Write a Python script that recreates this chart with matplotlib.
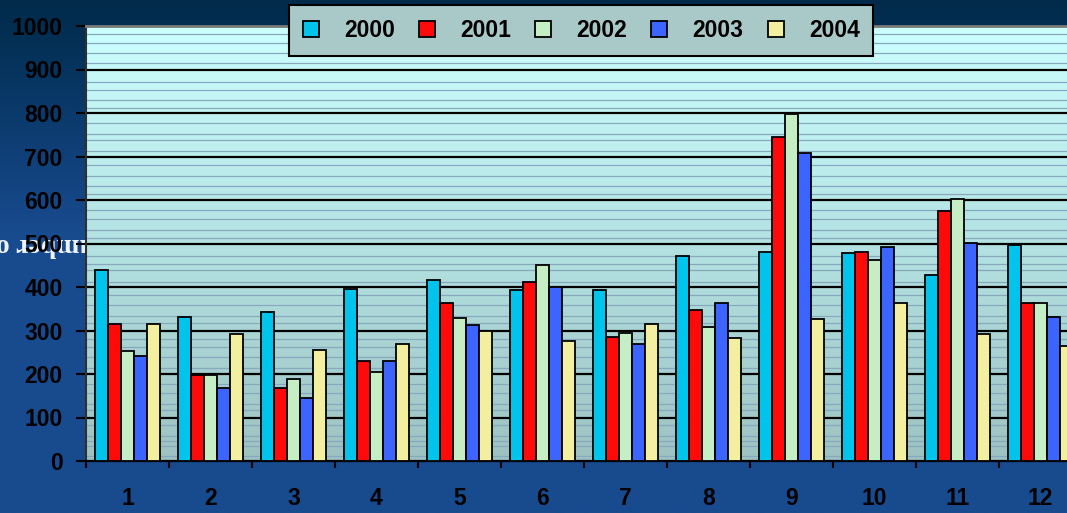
"""Monthly values 2000-2004, clustered bar chart.
"""

import numpy as np
import matplotlib
matplotlib.use('Agg')
import matplotlib.pyplot as plt
from matplotlib.colors import LinearSegmentedColormap


months = ['1', '2', '3', '4', '5', '6', '7', '8', '9', '10', '11', '12']
years = ['2000', '2001', '2002', '2003', '2004']

v2000 = [438, 332, 343, 396, 417, 393, 393, 472, 481, 478, 428, 496]
v2001 = [315, 197, 168, 231, 364, 411, 285, 347, 744, 481, 575, 364]
v2002 = [252, 197, 188, 205, 329, 451, 295, 309, 798, 461, 603, 364]
v2003 = [241, 167, 144, 231, 313, 399, 269, 364, 709, 491, 501, 332]
v2004 = [316, 293, 256, 269, 298, 276, 316, 282, 326, 364, 292, 265]

yticks = [0, 100, 200, 300, 400, 500, 600, 700, 800, 900, 1000]
# faint lines of the plot area texture
texture = [12, 35, 47, 58, 82, 118, 131, 156, 176, 214, 239, 262, 281, 318, 334, 359,
           381, 412, 438, 452, 471, 512, 531, 556, 578, 614, 632, 655, 681, 712, 737,
           752, 777, 812, 829, 852, 872, 915, 937, 962, 981]


if __name__ == '__main__':

    plt.rcParams['font.family'] = ['Liberation Sans', 'DejaVu Sans']
    W, H = 1067, 513
    fig = plt.figure(figsize=(W / 100.0, H / 100.0), dpi=100)

    # dark blue backdrop
    bg = fig.add_axes([0, 0, 1, 1], zorder=-2)
    bg_cmap = LinearSegmentedColormap.from_list('bg', [(0.0, '#022a4a'), (0.12, '#05335c'),
                                                       (0.45, '#184a8e'), (1.0, '#184b8f')])
    bg.imshow(np.linspace(0, 1, 256).reshape(-1, 1), cmap=bg_cmap, aspect='auto',
              extent=[0, 1, 0, 1], origin='upper')
    bg.set_xlim(0, 1)
    bg.set_ylim(0, 1)
    bg.axis('off')

    # mirrored axis title, mostly hidden behind the plot area
    fig.text(-13.0 / W, 1 - 245.0 / H, 'Number of', rotation=180, ha='left', va='center',
             color='#f0f4ff', fontfamily='Liberation Serif', fontweight='bold', fontsize=20,
             zorder=-1)

    ax = fig.add_axes([86.0 / W, 1 - 461.0 / H, 996.0 / W, 435.0 / H], zorder=0)
    area_cmap = LinearSegmentedColormap.from_list('area', ['#ccffff', '#b4e2e2', '#9ec2c2'])
    ax.imshow(np.linspace(0, 1, 256).reshape(-1, 1), cmap=area_cmap, aspect='auto',
              extent=[0, 1, 0, 1], transform=ax.transAxes, zorder=0)

    for yy in texture:
        ax.axhline(yy, color='#86a9bd', lw=0.9, zorder=1)
    for yy in yticks[1:-1]:
        ax.axhline(yy, color='black', lw=1.6, zorder=1)

    colors = ['#00c4ec', '#ff0a0a', '#c6eec4', '#3c64ff', '#f2f0a0']
    series = [v2000, v2001, v2002, v2003, v2004]
    x = np.arange(len(months))
    width = 0.157
    bars = []
    for i in range(len(years)):
        b = ax.bar(x + (i - 2) * width, series[i], width, color=colors[i],
                   edgecolor='black', linewidth=1.3, zorder=3, label=years[i])
        bars.append(b)

    ax.set_xlim(-0.5, len(months) - 0.5)
    ax.set_ylim(0, 1000)
    ax.set_yticks(yticks)
    ax.set_yticklabels([str(t) for t in yticks])
    ax.set_xticks(x)
    ax.set_xticklabels(months)
    ax.set_xticks(np.arange(len(months)) - 0.5, minor=True)
    ax.tick_params(axis='x', which='major', length=0, pad=19, labelsize=16.5)
    ax.tick_params(axis='x', which='minor', length=5, width=1.5, direction='out', color='black')
    ax.tick_params(axis='y', which='major', length=7, width=1.5, pad=10, labelsize=16.5,
                   color='black')
    ax.tick_params(axis='y', which='minor', length=0)
    for lab in ax.get_xticklabels() + ax.get_yticklabels():
        lab.set_fontweight('bold')
        lab.set_color('black')

    ax.spines['left'].set_color('#303030')
    ax.spines['left'].set_linewidth(1.5)
    ax.spines['bottom'].set_color('black')
    ax.spines['bottom'].set_linewidth(1.6)
    ax.spines['top'].set_color('#7a7a7a')
    ax.spines['top'].set_linewidth(2)
    ax.spines['right'].set_visible(False)

    leg = fig.legend(handles=bars, labels=years, ncol=5, loc='upper left',
                     bbox_to_anchor=(289.0 / W, 1 - 5.0 / H),
                     frameon=True, fancybox=False, handlelength=0.7,
                     handleheight=0.7, handletextpad=1.1, columnspacing=1.05,
                     borderpad=0.6, borderaxespad=0, prop={'weight': 'bold', 'size': 16.5})
    leg.get_frame().set_facecolor('#a9c9c9')
    leg.get_frame().set_edgecolor('black')
    leg.get_frame().set_linewidth(1.5)
    leg.get_frame().set_alpha(1)

    fig.savefig('out.png', dpi=100)
